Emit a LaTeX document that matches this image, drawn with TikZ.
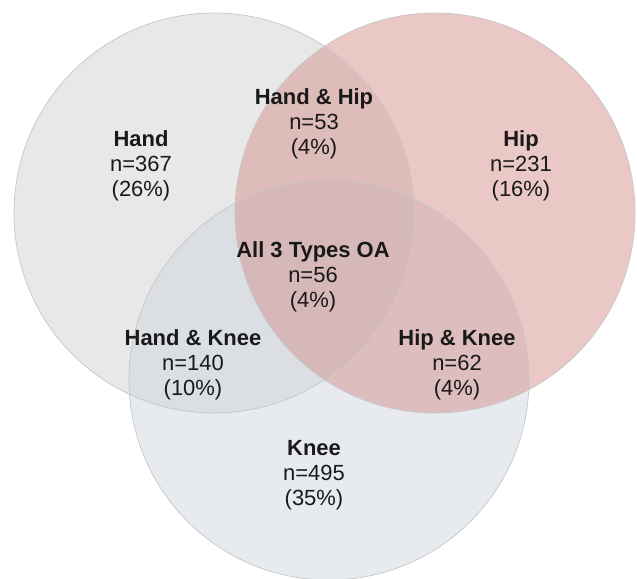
\documentclass[tikz,border=0pt]{standalone}
\usepackage{fontspec}
\setmainfont{Liberation Sans}
\usepackage{xcolor}
\usetikzlibrary{positioning}
\definecolor{handgray}{RGB}{209,209,209}
\definecolor{kneeblue}{RGB}{207,215,225}
\definecolor{hipred}{RGB}{213,145,141}
\definecolor{rimgray}{RGB}{198,198,198}

\begin{document}
\begin{tikzpicture}[x=0.02cm, y=-0.02cm]
	\tikzstyle{every node}=[font=\fontsize{12.5}{14.2}\selectfont, align=center, text=black!90]
	\tikzstyle{rim}=[draw=rimgray, line width=0.4pt]
	\useasboundingbox (0,0) rectangle (637,579);
	% fills
	\fill [handgray, fill opacity=0.5] (214,213) circle [radius=200];
	\fill [kneeblue, fill opacity=0.5] (329,380) circle [radius=200];
	\fill [hipred, fill opacity=0.5] (435,213) circle [radius=200];
	% outlines
	\draw [rim] (214,213) circle [radius=200];
	\draw [rim] (329,380) circle [radius=200];
	\draw [rim] (435,213) circle [radius=200];
	% labels
	\node (hand) at (141,166) {\textbf{Hand}\\n=367\\(26\%)};
	\node (hip) at (521,166) {\textbf{Hip}\\n=231\\(16\%)};
	\node (handhip) at (314,124) {\textbf{Hand \& Hip}\\n=53\\(4\%)};
	\node (allthree) at (313,277) {\textbf{All 3 Types OA}\\n=56\\(4\%)};
	\node (handknee) at (193,365) {\textbf{Hand \& Knee}\\n=140\\(10\%)};
	\node (hipknee) at (457,365) {\textbf{Hip \& Knee}\\n=62\\(4\%)};
	\node (knee) at (314,475) {\textbf{Knee}\\n=495\\(35\%)};
\end{tikzpicture}
\end{document}
